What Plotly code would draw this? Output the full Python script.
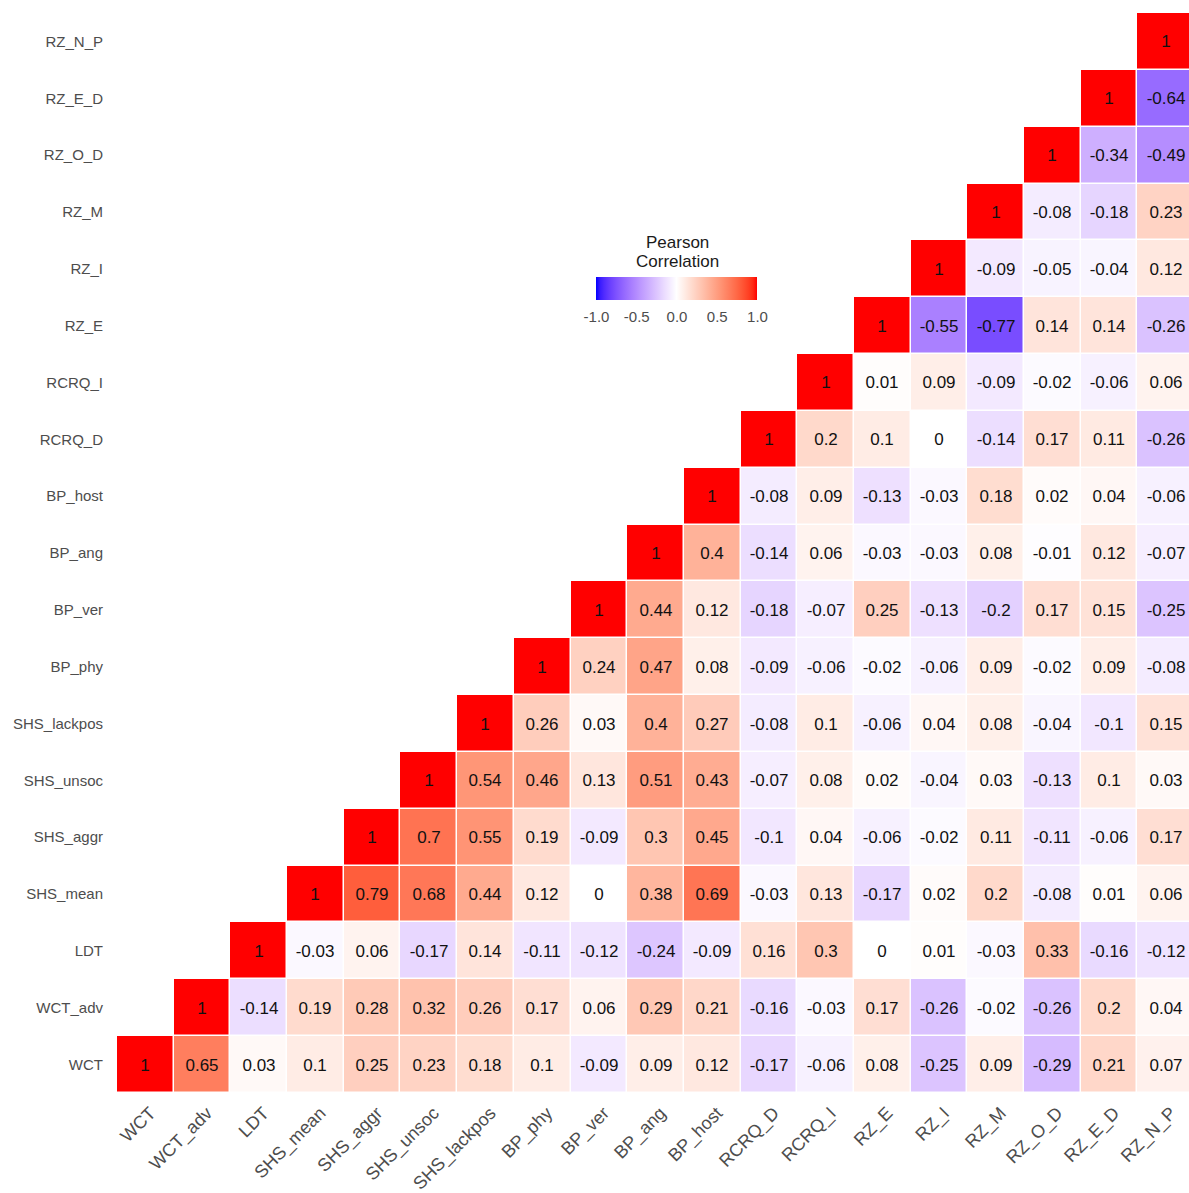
import plotly.graph_objects as go

# ---------------- data ----------------
variables = ["WCT", "WCT_adv", "LDT", "SHS_mean", "SHS_aggr", "SHS_unsoc",
             "SHS_lackpos", "BP_phy", "BP_ver", "BP_ang", "BP_host", "RCRQ_D",
             "RCRQ_I", "RZ_E", "RZ_I", "RZ_M", "RZ_O_D", "RZ_E_D", "RZ_N_P"]

# each row: correlations of that variable with itself and every later variable
r_WCT = [1, 0.65, 0.03, 0.1, 0.25, 0.23, 0.18, 0.1, -0.09, 0.09, 0.12, -0.17, -0.06, 0.08, -0.25, 0.09, -0.29, 0.21, 0.07]
r_WCT_adv = [1, -0.14, 0.19, 0.28, 0.32, 0.26, 0.17, 0.06, 0.29, 0.21, -0.16, -0.03, 0.17, -0.26, -0.02, -0.26, 0.2, 0.04]
r_LDT = [1, -0.03, 0.06, -0.17, 0.14, -0.11, -0.12, -0.24, -0.09, 0.16, 0.3, 0, 0.01, -0.03, 0.33, -0.16, -0.12]
r_SHS_mean = [1, 0.79, 0.68, 0.44, 0.12, 0, 0.38, 0.69, -0.03, 0.13, -0.17, 0.02, 0.2, -0.08, 0.01, 0.06]
r_SHS_aggr = [1, 0.7, 0.55, 0.19, -0.09, 0.3, 0.45, -0.1, 0.04, -0.06, -0.02, 0.11, -0.11, -0.06, 0.17]
r_SHS_unsoc = [1, 0.54, 0.46, 0.13, 0.51, 0.43, -0.07, 0.08, 0.02, -0.04, 0.03, -0.13, 0.1, 0.03]
r_SHS_lackpos = [1, 0.26, 0.03, 0.4, 0.27, -0.08, 0.1, -0.06, 0.04, 0.08, -0.04, -0.1, 0.15]
r_BP_phy = [1, 0.24, 0.47, 0.08, -0.09, -0.06, -0.02, -0.06, 0.09, -0.02, 0.09, -0.08]
r_BP_ver = [1, 0.44, 0.12, -0.18, -0.07, 0.25, -0.13, -0.2, 0.17, 0.15, -0.25]
r_BP_ang = [1, 0.4, -0.14, 0.06, -0.03, -0.03, 0.08, -0.01, 0.12, -0.07]
r_BP_host = [1, -0.08, 0.09, -0.13, -0.03, 0.18, 0.02, 0.04, -0.06]
r_RCRQ_D = [1, 0.2, 0.1, 0, -0.14, 0.17, 0.11, -0.26]
r_RCRQ_I = [1, 0.01, 0.09, -0.09, -0.02, -0.06, 0.06]
r_RZ_E = [1, -0.55, -0.77, 0.14, 0.14, -0.26]
r_RZ_I = [1, -0.09, -0.05, -0.04, 0.12]
r_RZ_M = [1, -0.08, -0.18, 0.23]
r_RZ_O_D = [1, -0.34, -0.49]
r_RZ_E_D = [1, -0.64]
r_RZ_N_P = [1]

legend_ticks = [-1.0, -0.5, 0.0, 0.5, 1.0]
legend_ticktext = ["-1.0", "-0.5", "0.0", "0.5", "1.0"]
legend_title_lines = ["Pearson", "Correlation"]

rows = [r_WCT, r_WCT_adv, r_LDT, r_SHS_mean, r_SHS_aggr, r_SHS_unsoc,
        r_SHS_lackpos, r_BP_phy, r_BP_ver, r_BP_ang, r_BP_host, r_RCRQ_D,
        r_RCRQ_I, r_RZ_E, r_RZ_I, r_RZ_M, r_RZ_O_D, r_RZ_E_D, r_RZ_N_P]

n = len(variables)
z = []
txt = []
for i, r in enumerate(rows):
    zr = [None] * i + list(r)
    z.append(zr)
    txt.append(["" if v is None else "{:g}".format(v) for v in zr])


# ---------- Lab-space diverging colour scale (blue-white-red) ----------
def srgb_to_lin(c):
    c = c / 255.0
    return c / 12.92 if c <= 0.04045 else ((c + 0.055) / 1.055) ** 2.4


def lin_to_srgb(c):
    c = max(0.0, min(1.0, c))
    v = 12.92 * c if c <= 0.0031308 else 1.055 * c ** (1 / 2.4) - 0.055
    return int(round(max(0, min(1, v)) * 255))


WX, WY, WZ = 0.95047, 1.0, 1.08883


def rgb_to_lab(rgb):
    r, g, b = [srgb_to_lin(c) for c in rgb]
    X = 0.4124564 * r + 0.3575761 * g + 0.1804375 * b
    Y = 0.2126729 * r + 0.7151522 * g + 0.0721750 * b
    Z = 0.0193339 * r + 0.1191920 * g + 0.9503041 * b

    def f(t):
        return t ** (1 / 3) if t > 216 / 24389 else (24389 / 27 * t + 16) / 116

    fx, fy, fz = f(X / WX), f(Y / WY), f(Z / WZ)
    return (116 * fy - 16, 500 * (fx - fy), 200 * (fy - fz))


def lab_to_rgb(lab):
    L, a, b = lab
    fy = (L + 16) / 116
    fx = fy + a / 500
    fz = fy - b / 200

    def finv(t):
        return t ** 3 if t ** 3 > 216 / 24389 else (116 * t - 16) / (24389 / 27)

    X, Y, Z = finv(fx) * WX, finv(fy) * WY, finv(fz) * WZ
    r = 3.2404542 * X - 1.5371385 * Y - 0.4985314 * Z
    g = -0.9692660 * X + 1.8760108 * Y + 0.0415560 * Z
    bb = 0.0556434 * X - 0.2040259 * Y + 1.0572252 * Z
    return (lin_to_srgb(r), lin_to_srgb(g), lin_to_srgb(bb))


lab_low = rgb_to_lab((0, 0, 255))
lab_mid = rgb_to_lab((255, 255, 255))
lab_high = rgb_to_lab((255, 0, 0))
colorscale = []
steps = 40
for k in range(steps + 1):
    s = k / steps
    if s <= 0.5:
        t = s / 0.5
        lab = tuple(lab_low[j] + (lab_mid[j] - lab_low[j]) * t for j in range(3))
    else:
        t = (s - 0.5) / 0.5
        lab = tuple(lab_mid[j] + (lab_high[j] - lab_mid[j]) * t for j in range(3))
    rr, gg, bb = lab_to_rgb(lab)
    colorscale.append([s, "rgb({},{},{})".format(rr, gg, bb)])

FONT = "Liberation Sans, Arial, sans-serif"
PLOT_L, PLOT_T, PLOT_W, PLOT_H = 117, 13, 1072, 1080
LEG_CX = (677 - PLOT_L) / PLOT_W

fig = go.Figure()
fig.add_trace(go.Heatmap(
    x=variables, y=variables, z=z, text=txt,
    texttemplate="%{text}",
    textfont=dict(family=FONT, size=17, color="#111111"),
    colorscale=colorscale, zmin=-1, zmax=1,
    xgap=1.5, ygap=1.5,
    hoverongaps=False,
    colorbar=dict(
        orientation="h",
        x=LEG_CX, xanchor="center",
        y=(PLOT_T + PLOT_H - 277) / PLOT_H, yanchor="top",
        len=161, lenmode="pixels", thickness=23, thicknessmode="pixels",
        xpad=0, ypad=0, outlinewidth=0,
        tickvals=legend_ticks, ticktext=legend_ticktext,
        ticks="outside", ticklen=4, tickcolor="white", tickwidth=1,
        tickfont=dict(family=FONT, size=15, color="#4D4D4D"),
    ),
))

for line, ypix in zip(legend_title_lines, [243, 261]):
    fig.add_annotation(
        text=line, xref="paper", yref="paper",
        x=LEG_CX, y=(PLOT_T + PLOT_H - ypix) / PLOT_H,
        xanchor="center", yanchor="middle", showarrow=False,
        font=dict(family=FONT, size=17, color="#1A1A1A"),
    )

fig.update_layout(
    width=1189, height=1193, autosize=False,
    margin=dict(l=PLOT_L, r=0, t=PLOT_T, b=1193 - PLOT_T - PLOT_H, pad=0),
    plot_bgcolor="white", paper_bgcolor="white",
    xaxis=dict(range=[-0.5, 18.41], showgrid=False, zeroline=False, showline=False,
               automargin=False,
               tickangle=-45, tickfont=dict(family=FONT, size=18, color="#4D4D4D"),
               ticks="", ticklabelstandoff=5, ticklabelshift=5, fixedrange=True),
    yaxis=dict(range=[-0.5, 18.5], showgrid=False, zeroline=False, showline=False,
               automargin=False,
               tickfont=dict(family=FONT, size=15, color="#4D4D4D"),
               ticks="", ticklabelstandoff=13, fixedrange=True),
)

fig.write_html("out.html")
